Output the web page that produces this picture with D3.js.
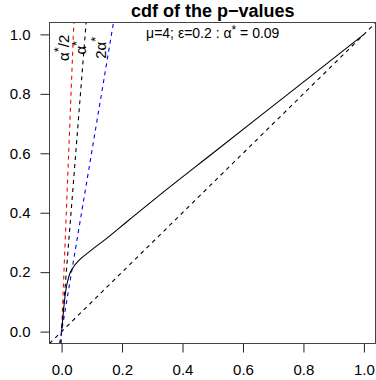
<!DOCTYPE html>
<html><head><meta charset="utf-8">
<script src="https://cdn.jsdelivr.net/npm/d3@7"></script>
<style>
html,body{margin:0;padding:0;background:#fff;}
svg{display:block;font-family:"Liberation Sans",Arial,sans-serif;}
</style></head>
<body><svg id="c" width="376" height="380"></svg>
<script>
// ---- data ----
const xTicks = [0, 0.2, 0.4, 0.6, 0.8, 1.0];
const yTicks = [0, 0.2, 0.4, 0.6, 0.8, 1.0];
const curveX = [0, 0.005, 0.01, 0.015, 0.021, 0.028, 0.037, 0.06, 0.093, 0.148, 0.214, 0.319, 0.5, 0.75, 1.0];
const curveY = [0, 0.055, 0.107, 0.145, 0.174, 0.197, 0.214, 0.242, 0.27, 0.313, 0.368, 0.455, 0.6, 0.8, 1.0];
// reference lines through the origin: x reached at y = 1
const refNames = ["α*/2", "α*", "2α*"];
const refXatOne = [0.039, 0.078, 0.165];
const refColors = ["#ff0000", "#000000", "#0000ff"];
const labelX = [0.006, 0.063, 0.128];
const labelY = [0.955, 0.955, 0.955];
const titleText = "cdf of the p\u2212values";
const subParts = ["μ=4; ε=0.2 : α", "*", " = 0.09"];

// ---- layout ----
const svg = d3.select("#c");
const mLeft = 49.5, mRight = 376, mTop = 22.5, mBottom = 343.5;
const x = d3.scaleLinear().domain([-0.04, 1.04]).range([mLeft, mRight]);
const y = d3.scaleLinear().domain([-0.04, 1.04]).range([mBottom, mTop]);

svg.append("defs").append("clipPath").attr("id", "box")
  .append("rect").attr("x", mLeft).attr("y", mTop).attr("width", mRight - mLeft).attr("height", mBottom - mTop);

const plot = svg.append("g").attr("clip-path", "url(#box)");

// diagonal y = x
plot.append("line")
  .attr("x1", x(-0.04)).attr("y1", y(-0.04)).attr("x2", x(1.04)).attr("y2", y(1.04))
  .attr("stroke", "#000").attr("stroke-dasharray", "4,4").attr("stroke-width", 1.1);

// reference lines
refXatOne.forEach((a, i) => {
  plot.append("line")
    .attr("x1", x(a * -0.04)).attr("y1", y(-0.04))
    .attr("x2", x(a * 1.04)).attr("y2", y(1.04))
    .attr("stroke", refColors[i]).attr("stroke-dasharray", "4,4").attr("stroke-width", 1.1);
});

// cdf curve
const pts = curveX.map((v, i) => [v, curveY[i]]);
plot.append("path").datum(pts)
  .attr("d", d3.line().x(d => x(d[0])).y(d => y(d[1])).curve(d3.curveMonotoneX))
  .attr("fill", "none").attr("stroke", "#000").attr("stroke-width", 1.1);

// box
svg.append("rect").attr("x", mLeft).attr("y", mTop).attr("width", mRight - mLeft - 0.5).attr("height", mBottom - mTop)
  .attr("fill", "none").attr("stroke", "#444").attr("stroke-width", 1);

// axes
const xAxis = svg.append("g").attr("transform", `translate(0,${mBottom})`)
  .call(d3.axisBottom(x).tickValues(xTicks).tickFormat(d3.format(".1f")).tickSize(9).tickPadding(12));
const yAxis = svg.append("g").attr("transform", `translate(${mLeft},0)`)
  .call(d3.axisLeft(y).tickValues(yTicks).tickFormat(d3.format(".1f")).tickSize(9).tickPadding(10));
[xAxis, yAxis].forEach(g => {
  g.select(".domain").remove();
  g.selectAll(".tick line").attr("stroke", "#222");
  g.selectAll("text").attr("font-size", 15).attr("fill", "#000")
    .attr("font-family", "Liberation Sans, Arial, sans-serif");
});

// rotated labels
refNames.forEach((n, i) => {
  const t = svg.append("text")
    .attr("transform", `translate(${x(labelX[i])},${y(labelY[i])}) rotate(-90)`)
    .attr("text-anchor", "middle").attr("dy", "0.35em").attr("font-size", 15);
  const parts = n.split("*");
  t.append("tspan").text(parts[0]);
  t.append("tspan").text("*").attr("font-size", 13).attr("dy", "-0.4em");
  if (parts[1]) t.append("tspan").text(parts[1]).attr("dy", "0.35em");
});

// title
svg.append("text").attr("x", (mLeft + mRight) / 2).attr("y", 17)
  .attr("text-anchor", "middle").attr("font-weight", "bold").attr("font-size", 18).text(titleText);

// subtitle in plot
const st = svg.append("text").attr("x", x(0.5)).attr("y", 38)
  .attr("text-anchor", "middle").attr("font-size", 14);
st.append("tspan").text(subParts[0]);
st.append("tspan").text(subParts[1]).attr("font-size", 12).attr("dy", "-0.35em");
st.append("tspan").text(subParts[2]).attr("dy", "0.3em");
</script></body></html>
